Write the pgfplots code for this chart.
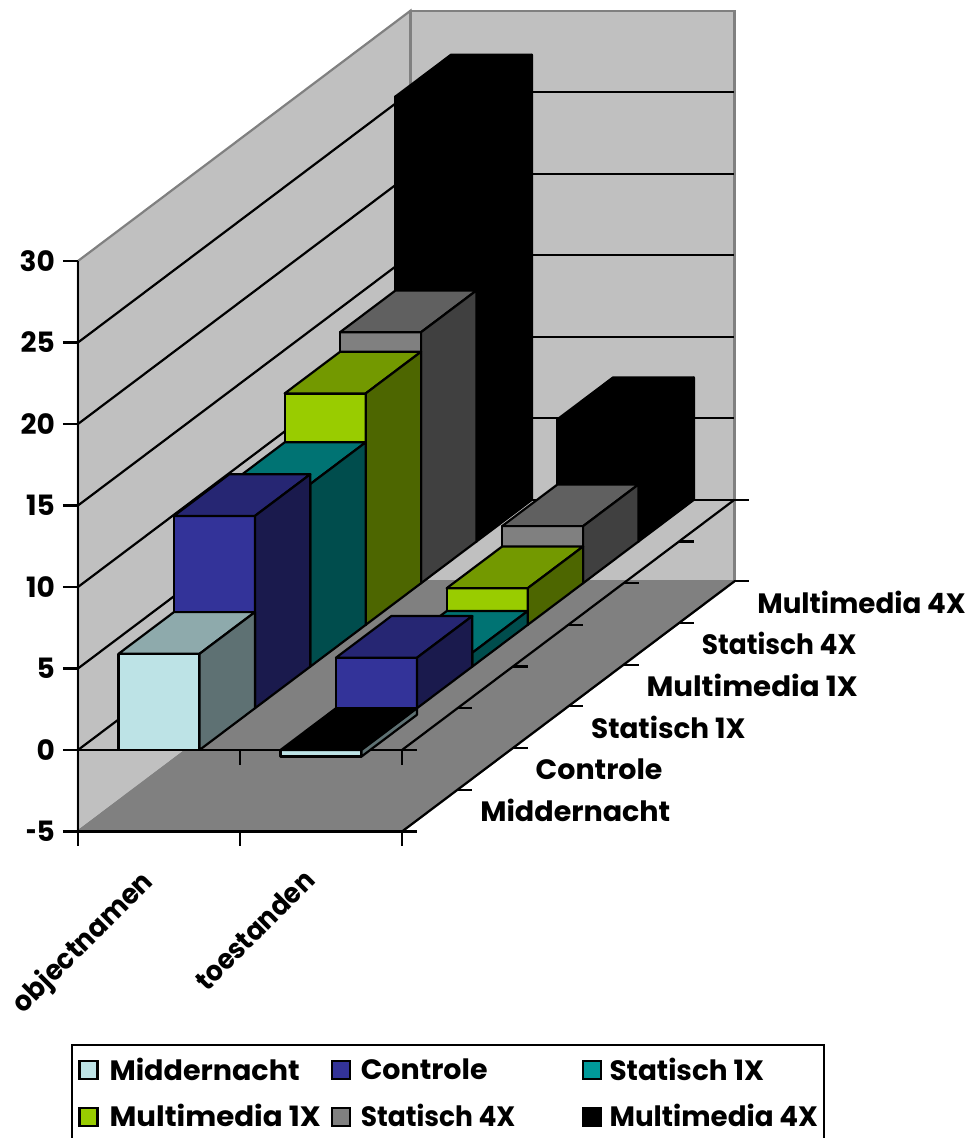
\documentclass[border=0pt]{standalone}
\usepackage{pgfplots}
\pgfplotsset{compat=1.18}
\usepackage{fontspec}
\setmainfont{Poppins}

\definecolor{wall}{HTML}{C0C0C0}
\definecolor{floorgray}{HTML}{808080}
\definecolor{midF}{HTML}{BDE3E6}\definecolor{midT}{HTML}{8EAAAC}\definecolor{midS}{HTML}{5E7173}
\definecolor{conF}{HTML}{333399}\definecolor{conT}{HTML}{262673}\definecolor{conS}{HTML}{1A1A4D}
\definecolor{st1F}{HTML}{009999}\definecolor{st1T}{HTML}{007373}\definecolor{st1S}{HTML}{004D4D}
\definecolor{mm1F}{HTML}{99CC00}\definecolor{mm1T}{HTML}{739900}\definecolor{mm1S}{HTML}{4D6600}
\definecolor{st4F}{HTML}{808080}\definecolor{st4T}{HTML}{606060}\definecolor{st4S}{HTML}{404040}

% one straight line through the axis
\newcommand{\seg}[3][black]{\addplot3[#1,line width=1.1pt,mark=none,forget plot] coordinates {#2 #3};}
% one flat face
\newcommand{\face}[5]{\addplot3[fill=#1,draw=black,line width=1.1pt,line join=round,mark=none,forget plot] coordinates {#2 #3 #4 #5} -- cycle;}
% x0 x1 depth0 depth1 zbottom ztop, front top side colours
\newcommand{\solid}[9]{%
  \face{#7}{(#1,#3,#5)}{(#2,#3,#5)}{(#2,#3,#6)}{(#1,#3,#6)}
  \face{#8}{(#1,#3,#6)}{(#2,#3,#6)}{(#2,#4,#6)}{(#1,#4,#6)}
  \face{#9}{(#2,#3,#5)}{(#2,#4,#5)}{(#2,#4,#6)}{(#2,#3,#6)}
}
% label texts, narrowed or widened to the reference's widths
\newcommand{\sMid}{\scalebox{1.02}[1]{Middernacht}}
\newcommand{\sCon}{\scalebox{1.016}[1]{Controle}}
\newcommand{\sStA}{\scalebox{0.995}[1]{Statisch 1X}}
\newcommand{\sMmA}{\scalebox{1.045}[1]{Multimedia 1X}}
\newcommand{\sStB}{\scalebox{0.945}[1]{Statisch 4X}}
\newcommand{\sMmB}{\scalebox{0.99}[1]{Multimedia 4X}}
\newcommand{\lab}[2][3.5pt]{\hspace{#1}\makebox[105.5pt][l]{#2}}

\begin{document}
\begin{tikzpicture}
\useasboundingbox (0,0) rectangle (486pt,569pt);
\draw[black,line width=1.1pt] (36pt,-5pt) -- (36pt,46.5pt) -- (412pt,46.5pt) -- (412pt,-5pt);
\begin{axis}[
    at={(39pt,194pt)},anchor=origin,
    hide axis,clip=false,disabledatascaling,
    x={(81pt,0pt)},y={(27.7pt,20.85pt)},z={(0pt,8.15pt)},
    xmin=0,xmax=2,ymin=0,ymax=6,zmin=-5,zmax=30,
    font=\fontsize{14}{16}\selectfont\bfseries,
    legend columns=3,
    legend style={at={(axis cs:-0.0,0,-18.6)},anchor=north west,draw=none,fill=none,
        font=\fontsize{14}{16}\selectfont\bfseries,
        row sep=6.5pt,inner sep=0pt,/tikz/every even column/.style={column sep=3pt}},
    legend image code/.code={\draw[#1,line width=1.1pt] (0pt,-4.5pt) rectangle (9pt,4.5pt);},
]
\addlegendimage{fill=midF,draw=black}\addlegendentry{\lab{\sMid}}
\addlegendimage{fill=conF,draw=black}\addlegendentry{\lab[3pt]{\sCon}}
\addlegendimage{fill=st1F,draw=black}\addlegendentry{\lab[1.8pt]{\sStA}}
\addlegendimage{fill=mm1F,draw=black}\addlegendentry{\lab{\sMmA}}
\addlegendimage{fill=st4F,draw=black}\addlegendentry{\lab[3pt]{\sStB}}
\addlegendimage{fill=black,draw=black}\addlegendentry{\lab[1.8pt]{\sMmB}}

% walls and floor
\addplot3[fill=wall,draw=floorgray,line width=1.1pt,mark=none,forget plot] coordinates {(0,0,-5) (0,6,-5) (0,6,30) (0,0,30)} -- cycle;
\addplot3[fill=wall,draw=floorgray,line width=1.1pt,mark=none,forget plot] coordinates {(0,6,-5) (2,6,-5) (2,6,30) (0,6,30)} -- cycle;
\addplot3[fill=floorgray,draw=floorgray,line width=1.1pt,mark=none,forget plot] coordinates {(0,0,-5) (2,0,-5) (2,6,-5) (0,6,-5)} -- cycle;

% grid on the side wall
\seg{(0,0,0)}{(0,6,0)}
\seg{(0,0,5)}{(0,6,5)}
\seg{(0,0,10)}{(0,6,10)}
\seg{(0,0,15)}{(0,6,15)}
\seg{(0,0,20)}{(0,6,20)}
\seg{(0,0,25)}{(0,6,25)}
% grid on the back wall
\seg{(0,6,0)}{(2,6,0)}
\seg{(0,6,5)}{(2,6,5)}
\seg{(0,6,10)}{(2,6,10)}
\seg{(0,6,15)}{(2,6,15)}
\seg{(0,6,20)}{(2,6,20)}
\seg{(0,6,25)}{(2,6,25)}

% value axis and ticks
\seg{(0,0,-5)}{(0,0,30)}
\seg{(-0.0926,0,-5)}{(0,0,-5)}
\seg{(-0.0926,0,0)}{(0,0,0)}
\seg{(-0.0926,0,5)}{(0,0,5)}
\seg{(-0.0926,0,10)}{(0,0,10)}
\seg{(-0.0926,0,15)}{(0,0,15)}
\seg{(-0.0926,0,20)}{(0,0,20)}
\seg{(-0.0926,0,25)}{(0,0,25)}
\seg{(-0.0926,0,30)}{(0,0,30)}

% category axis at 0 and at the floor
\seg{(0,0,0)}{(2.0926,0,0)}
\seg{(0,0,-5)}{(2.0926,0,-5)}
\seg{(0,0,-5)}{(0,0,-5.92)}
\seg{(1,0,-5)}{(1,0,-5.92)}
\seg{(2,0,-5)}{(2,0,-5.92)}
\seg{(1,0,0)}{(1,0,-0.92)}
\seg{(2,0,0)}{(2,0,-0.92)}

% depth axis at 0 and at the floor
\seg{(2,0,0)}{(2,6,0)}
\seg{(2,0,-5)}{(2,6,-5)}
\seg{(2,1,0)}{(2.0926,1,0)}
\seg{(2,2,0)}{(2.0926,2,0)}
\seg{(2,3,0)}{(2.0926,3,0)}
\seg{(2,4,0)}{(2.0926,4,0)}
\seg{(2,5,0)}{(2.0926,5,0)}
\seg{(2,6,0)}{(2.0926,6,0)}
\seg{(2,1,-5)}{(2.0926,1,-5)}
\seg{(2,2,-5)}{(2.0926,2,-5)}
\seg{(2,3,-5)}{(2.0926,3,-5)}
\seg{(2,4,-5)}{(2.0926,4,-5)}
\seg{(2,5,-5)}{(2.0926,5,-5)}
\seg{(2,6,-5)}{(2.0926,6,-5)}

% bars, back to front: objectnamen then toestanden for each series
\solid{0.25}{0.75}{5}{6}{0}{27.3}{black}{black}{black}
\solid{1.25}{1.75}{5}{6}{0}{7.5}{black}{black}{black}
\solid{0.25}{0.75}{4}{5}{0}{15.4}{st4F}{st4T}{st4S}
\solid{1.25}{1.75}{4}{5}{0}{3.5}{st4F}{st4T}{st4S}
\solid{0.25}{0.75}{3}{4}{0}{14.2}{mm1F}{mm1T}{mm1S}
\solid{1.25}{1.75}{3}{4}{0}{2.25}{mm1F}{mm1T}{mm1S}
\solid{0.25}{0.75}{2}{3}{0}{11.2}{st1F}{st1T}{st1S}
\solid{1.25}{1.75}{2}{3}{0}{0.85}{st1F}{st1T}{st1S}
\solid{0.25}{0.75}{1}{2}{0}{11.8}{conF}{conT}{conS}
\solid{1.25}{1.75}{1}{2}{0}{3.1}{conF}{conT}{conS}
\solid{0.25}{0.75}{0}{1}{0}{5.9}{midF}{midT}{midS}
\solid{1.25}{1.75}{0}{1}{-0.4}{0}{midF}{black}{midS}

% value labels
\node[anchor=east,inner sep=0pt] at (axis cs:-0.14,0,30) {30};
\node[anchor=east,inner sep=0pt] at (axis cs:-0.14,0,25) {25};
\node[anchor=east,inner sep=0pt] at (axis cs:-0.14,0,20) {20};
\node[anchor=east,inner sep=0pt] at (axis cs:-0.14,0,15) {15};
\node[anchor=east,inner sep=0pt] at (axis cs:-0.14,0,10) {10};
\node[anchor=east,inner sep=0pt] at (axis cs:-0.14,0,5) {5};
\node[anchor=east,inner sep=0pt] at (axis cs:-0.14,0,0) {0};
\node[anchor=east,inner sep=0pt] at (axis cs:-0.14,0,-5) {\scalebox{0.65}[1]{-}5};

% category labels
\node[anchor=east,rotate=45,inner sep=0pt] at (axis cs:0.44,0,-7.85) {\scalebox{0.95}[1]{objectnamen}};
\node[anchor=east,rotate=45,inner sep=0pt] at (axis cs:1.43,0,-7.67) {\scalebox{0.93}[1]{toestanden}};

% series labels
\node[anchor=west,inner sep=0pt] at (axis cs:2.31,0.5,-5) {\sMid};
\node[anchor=west,inner sep=0pt] at (axis cs:2.31,1.5,-5) {\sCon};
\node[anchor=west,inner sep=0pt] at (axis cs:2.31,2.5,-5) {\sStA};
\node[anchor=west,inner sep=0pt] at (axis cs:2.31,3.5,-5) {\sMmA};
\node[anchor=west,inner sep=0pt] at (axis cs:2.31,4.5,-5) {\sStB};
\node[anchor=west,inner sep=0pt] at (axis cs:2.31,5.5,-5) {\sMmB};
\end{axis}
\end{tikzpicture}
\end{document}
